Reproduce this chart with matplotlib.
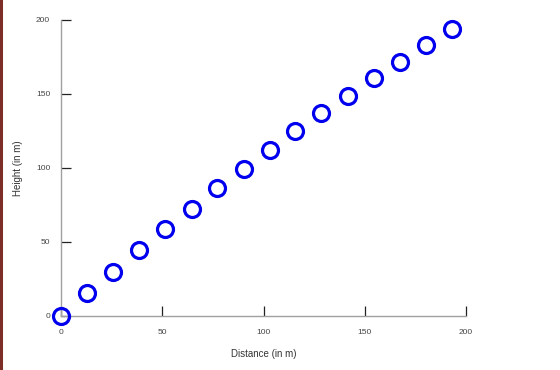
import matplotlib
matplotlib.use("Agg")
import matplotlib.pyplot as plt
import matplotlib.lines as mlines

# values
distance = [0, 12.9, 25.6, 38.6, 51.5, 64.4, 77.0, 90.3,
            103.1, 115.8, 128.6, 141.6, 154.5, 167.5, 180.4, 193.1]
height = [0, 15.3, 29.9, 44.6, 58.6, 72.3, 86.3, 99.3,
          112.2, 125.0, 137.4, 148.6, 160.6, 171.8, 183.3, 193.7]
x_ticks = [0, 50, 100, 150, 200]
y_ticks = [0, 50, 100, 150, 200]

plt.rcParams['font.family'] = ['Liberation Sans', 'DejaVu Sans']

fig = plt.figure(figsize=(5.6, 3.7), dpi=100)
ax = fig.add_axes([61.3 / 560, 54 / 370, (465.7 - 61.3) / 560, 296 / 370])

ax.plot(distance, height, linestyle='none', marker='o', markersize=11.5,
        markerfacecolor='none', markeredgecolor='#0000ee', markeredgewidth=2.3,
        clip_on=False, zorder=3)

ax.set_xlim(0, 200)
ax.set_ylim(0, 200)
ax.set_xticks(x_ticks)
ax.set_yticks(y_ticks)
ax.set_xticklabels([str(v) for v in x_ticks])
ax.set_yticklabels([str(v) for v in y_ticks])

for side in ['top', 'right']:
    ax.spines[side].set_visible(False)
for side in ['left', 'bottom']:
    ax.spines[side].set_color('#a0a0a0')
    ax.spines[side].set_linewidth(1.0)

ax.tick_params(axis='both', direction='in', length=7.5, width=0.9,
               color='#222222', labelsize=6, labelcolor='#444444', pad=8)
ax.tick_params(axis='x', pad=9)

ax.set_xlabel('Distance (in m)', fontsize=7, color='#333333')
ax.set_ylabel('Height (in m)', fontsize=7, color='#333333')
ax.xaxis.set_label_coords(0.5, -0.128)
ax.yaxis.set_label_coords(-0.107, 0.5)
ax.xaxis.label.set_va('center')
ax.yaxis.label.set_va('center')

# dark red line along the left edge
fig.add_artist(mlines.Line2D([0.002, 0.002], [0, 1], color='#7b2d26',
                             linewidth=2.2, transform=fig.transFigure))

fig.savefig('out.png', dpi=100)
